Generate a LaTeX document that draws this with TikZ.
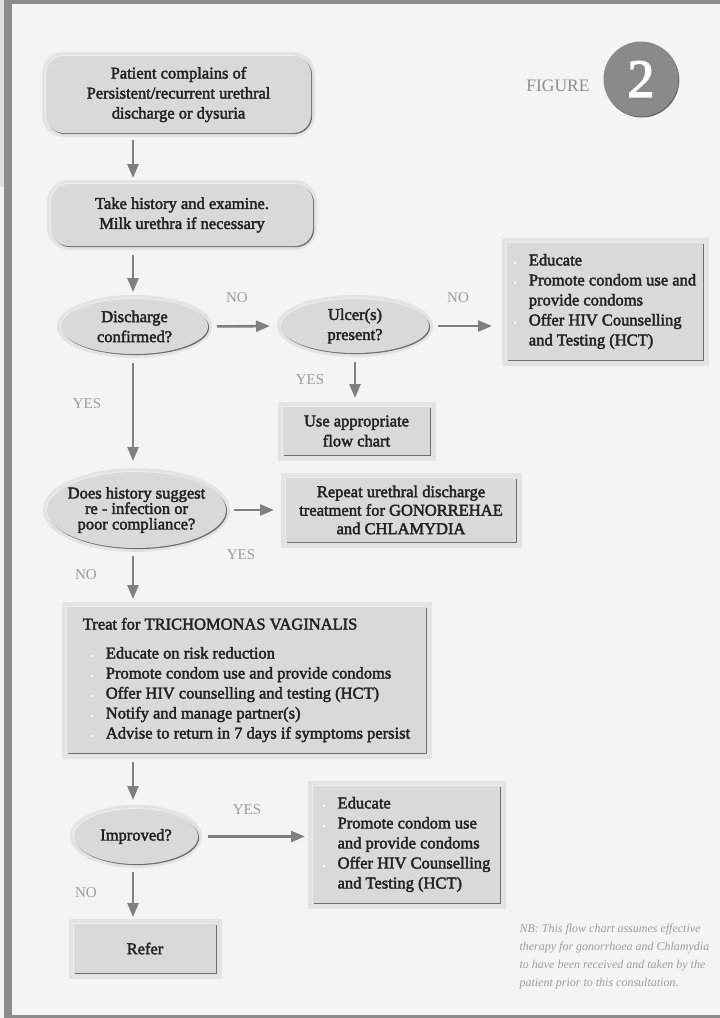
\documentclass[tikz,border=0pt]{standalone}
\usepackage{fontspec}
\setmainfont{Liberation Serif}
\newfontfamily\semibold[FakeBold=2.4]{Liberation Serif}
\usetikzlibrary{arrows.meta,shapes.geometric,calc}

\definecolor{bg}{HTML}{F4F4F4}
\definecolor{framec}{HTML}{8C8C8C}
\definecolor{stripc}{HTML}{DEDEDE}
\definecolor{boxc}{HTML}{D9D9D9}
\definecolor{rimc}{HTML}{E3E3E3}
\definecolor{edgec}{HTML}{6E6E6E}
\definecolor{arrc}{HTML}{7F7F7F}
\definecolor{lblc}{HTML}{9C9C9C}
\definecolor{txtc}{HTML}{222222}
\definecolor{circc}{HTML}{8A8A8A}

% small white bullet used in the lists
\newcommand\bul{\makebox[15pt][l]{\textcolor{white}{\fontsize{8}{8}\selectfont\textbullet}}}

\tikzset{
  emboss/.style={
    preaction={draw=rimc, line width=#1},
    preaction={fill=white!55!boxc, transform canvas={shift={(-0.9pt,0.9pt)}}},
    preaction={fill=edgec, transform canvas={shift={(1.1pt,-1.1pt)}}},
    fill=boxc},
  txt/.style={font=\semibold\fontsize{16.5}{20}\selectfont, text=txtc, align=center},
  rbox/.style={rectangle, rounded corners=18pt, emboss=8pt, txt, inner sep=0pt, outer sep=0pt},
  qell/.style={ellipse, emboss=8pt, txt, inner sep=0pt, outer sep=0pt},
  sbox/.style={rectangle, emboss=11pt, txt, inner sep=0pt, outer sep=0pt},
  arr/.style={draw=arrc, line width=2.6pt, -{Triangle[length=14pt,width=11pt]}},
  lbl/.style={font=\fontsize{15}{18}\selectfont, text=lblc},
}

\begin{document}
\begin{tikzpicture}[x=1pt, y=-1pt]
\useasboundingbox (0,0) rectangle (720,1018);

% page background and frame
\fill[bg] (0,0) rectangle (720,1018);
\fill[stripc] (0,0) rectangle (4,187);
\fill[framec] (4,0) rectangle (720,4);
\fill[framec] (4,0) rectangle (12,1018);
\fill[framec] (4,1014.5) rectangle (720,1018);

% figure badge
\node[font=\fontsize{17.5}{20}\selectfont, text=lblc!90!black] (figword) at (558,86) {FIGURE};
\node[circle, fill=circc, minimum size=75pt, inner sep=0pt,
      preaction={fill=circc!70!black, transform canvas={shift={(0.8pt,-1pt)}}},
      font=\semibold\fontsize{54}{54}\selectfont, text=white] (fignum) at (641,79) {2};

% flow chart nodes
\node[rbox, minimum width=265pt, minimum height=77pt] (start) at (178.5,94.5)
  {Patient complains of\\Persistent/recurrent urethral\\discharge or dysuria};
\node[rbox, minimum width=262pt, minimum height=62pt] (hist) at (182,215)
  {Take history and examine.\\Milk urethra if necessary};

\node[qell, minimum width=147pt, minimum height=55pt] (disc) at (134.5,326.5)
  {Discharge\\confirmed?};
\node[qell, minimum width=148pt, minimum height=54pt] (ulcer) at (355,326)
  {Ulcer(s)\\present?};

\node[sbox, minimum width=196pt, minimum height=117pt, align=left] (edu1) at (605,301.5)
  {\bul Educate\\
   \bul Promote condom use and\\
   \hspace*{15pt}provide condoms\\
   \bul Offer HIV Counselling\\
   \hspace*{15pt}and Testing (HCT)};

\node[sbox, minimum width=147pt, minimum height=48pt] (useflow) at (356.5,431)
  {Use appropriate\\flow chart};

\node[qell, minimum width=179pt, minimum height=76pt, inner xsep=-6pt,
      font=\semibold\fontsize{16.5}{15.5}\selectfont] (reinf) at (136.5,510)
  {Does history suggest\\re - infection or\\poor compliance?};

\node[sbox, minimum width=230pt, minimum height=64pt,
      font=\semibold\fontsize{16.5}{18.5}\selectfont] (repeat) at (401,510)
  {Repeat urethral discharge\\treatment for GONORREHAE\\and CHLAMYDIA};

\node[sbox, minimum width=359pt, minimum height=146pt, align=left] (treat) at (246.5,680)
  {Treat for TRICHOMONAS VAGINALIS\\[9pt]
   \hspace*{8pt}\bul Educate on risk reduction\\
   \hspace*{8pt}\bul Promote condom use and provide condoms\\
   \hspace*{8pt}\bul Offer HIV counselling and testing (HCT)\\
   \hspace*{8pt}\bul Notify and manage partner(s)\\
   \hspace*{8pt}\bul Advise to return in 7 days if symptoms persist};

\node[qell, minimum width=124pt, minimum height=55pt] (impr) at (136,836.5) {Improved?};

\node[sbox, minimum width=187pt, minimum height=117pt, align=left] (edu2) at (406.5,844.5)
  {\bul Educate\\
   \bul Promote condom use\\
   \hspace*{15pt}and provide condoms\\
   \bul Offer HIV Counselling\\
   \hspace*{15pt}and Testing (HCT)};

\node[sbox, minimum width=142pt, minimum height=49pt] (refer) at (145,948.5) {Refer};

% connectors
\coordinate (col) at (133,0);
\draw[arr, shorten <=7pt, shorten >=6pt] (start.south -| col) -- (hist.north -| col);
\draw[arr, shorten <=9pt, shorten >=7pt] (hist.south -| col) -- (disc.north -| col);
\draw[arr, shorten <=9pt, shorten >=11pt] (disc.east) -- (ulcer.west);
\draw[arr, shorten <=9pt, shorten >=15pt] (ulcer.east) -- (ulcer.east -| edu1.west);
\draw[arr, shorten <=9pt, shorten >=9pt] (ulcer.south) -- (ulcer.south |- useflow.north);
\draw[arr, shorten <=9pt, shorten >=11pt] (disc.south -| col) -- (reinf.north -| col);
\draw[arr, shorten <=8pt, shorten >=12pt] (reinf.east) -- (repeat.west);
\draw[arr, shorten <=8pt, shorten >=8pt] (reinf.south -| col) -- (treat.north -| col);
\draw[arr, shorten <=9pt, shorten >=9pt] (treat.south -| col) -- (impr.north -| col);
\draw[arr, shorten <=10pt, shorten >=8pt] (impr.east) -- (impr.east -| edu2.west);
\draw[arr, shorten <=8pt, shorten >=7pt] (impr.south -| col) -- (refer.north -| col);

% branch labels
\node[lbl] (noA) at (237,298) {NO};
\node[lbl] (noB) at (458,298) {NO};
\node[lbl] (yesA) at (310,380) {YES};
\node[lbl] (yesB) at (87,404) {YES};
\node[lbl] (yesC) at (241,555) {YES};
\node[lbl] (noC) at (86,575) {NO};
\node[lbl] (yesD) at (247,810) {YES};
\node[lbl] (noD) at (86,893) {NO};

% footnote
\node[font=\itshape\fontsize{12}{18}\selectfont, text=lblc, align=left, anchor=west] (note) at (516,957)
  {NB: This flow chart assumes effective\\
   therapy for gonorrhoea and Chlamydia\\
   to have been received and taken by the\\
   patient prior to this consultation.};
\end{tikzpicture}
\end{document}
